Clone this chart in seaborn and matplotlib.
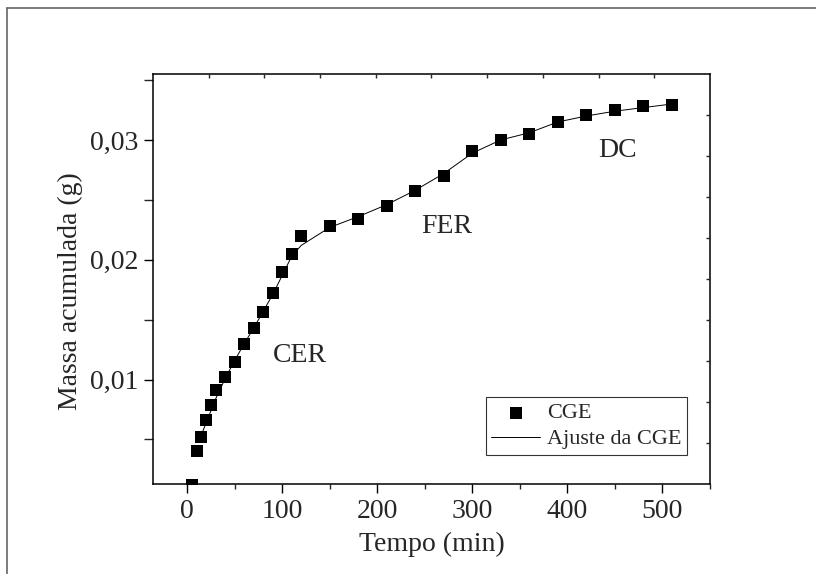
import matplotlib
matplotlib.use("Agg")
import matplotlib.pyplot as plt
from matplotlib.lines import Line2D
from matplotlib.ticker import FixedLocator, FixedFormatter, MultipleLocator
import seaborn as sns
import pandas as pd

# ---- data ----
tempo = [5, 10, 15, 20, 25, 30, 40, 50, 60, 70, 80, 90, 100, 110, 120,
         150, 180, 210, 240, 270, 300, 330, 360, 390, 420, 450, 480, 510]
massa = [0.0012, 0.0040, 0.0052, 0.0066, 0.0079, 0.0091, 0.0102, 0.0115,
         0.0130, 0.0143, 0.0156, 0.0172, 0.0190, 0.0205, 0.0220,
         0.0228, 0.0234, 0.0245, 0.0257, 0.0270, 0.0291, 0.0300,
         0.0305, 0.0315, 0.0321, 0.0325, 0.0328, 0.0329]

fit_tempo = [15, 20, 30, 40, 50, 60, 70, 80, 90, 100, 110, 120, 150, 180,
             210, 240, 270, 300, 330, 360, 390, 420, 450, 480, 510]
fit_massa = [0.0054, 0.0064, 0.0084, 0.0101, 0.0116, 0.0130, 0.0143, 0.0157,
             0.0171, 0.0187, 0.0203, 0.0212, 0.0227, 0.0236, 0.0246, 0.0258,
             0.0272, 0.0289, 0.0300, 0.0306, 0.0315, 0.0320, 0.0324, 0.0327,
             0.0330]

xticks = [0, 100, 200, 300, 400, 500]
xtick_labels = ["0", "100", "200", "300", "400", "500"]
yticks = [0.01, 0.02, 0.03]
ytick_labels = ["0,01", "0,02", "0,03"]

regions = ["CER", "FER", "DC"]
region_x = [119, 273, 453]
region_y = [0.0120, 0.0228, 0.0291]

x_label = "Tempo (min)"
y_label = "Massa acumulada (g)"
series_label = "CGE"
fit_label = "Ajuste da CGE"

df = pd.DataFrame({"t": tempo, "m": massa})
df_fit = pd.DataFrame({"t": fit_tempo, "m": fit_massa})

# ---- style ----
sns.set_style("ticks")
plt.rcParams["font.family"] = ["Liberation Serif", "DejaVu Serif"]

fig = plt.figure(figsize=(8.16, 5.74), dpi=100)
fig.patch.set_facecolor("white")
ax = fig.add_axes([0.1875, 0.1568, 0.6825, 0.7142])

sns.scatterplot(data=df, x="t", y="m", ax=ax, marker="s", s=64,
                color="black", edgecolor="black", linewidth=0,
                label=series_label, zorder=3)
sns.lineplot(data=df_fit, x="t", y="m", ax=ax, color="black", lw=0.7,
             errorbar=None, sort=True, label=fit_label, zorder=2)

ax.set_xlim(-36, 550)
ax.set_ylim(0.00128, 0.0355)

ax.xaxis.set_major_locator(FixedLocator(xticks))
ax.xaxis.set_major_formatter(FixedFormatter(xtick_labels))
ax.xaxis.set_minor_locator(MultipleLocator(50))
ax.yaxis.set_major_locator(FixedLocator(yticks))
ax.yaxis.set_major_formatter(FixedFormatter(ytick_labels))
ax.yaxis.set_minor_locator(MultipleLocator(0.005))

ax.tick_params(axis="both", which="major", direction="out", length=6.5,
               width=1.0, labelsize=20, pad=4, color="black")
ax.tick_params(axis="x", which="minor", direction="out", length=3.8, width=1.0)
ax.tick_params(axis="y", which="minor", direction="out", length=6.5, width=1.0)
ax.tick_params(top=False, right=False, which="both")

for sp in ax.spines.values():
    sp.set_visible(True)
    sp.set_linewidth(1.1)
    sp.set_color("black")

ax.set_xlabel(x_label, fontsize=20, labelpad=6)
ax.set_ylabel(y_label, fontsize=20, labelpad=6)
ax.yaxis.set_label_coords(-0.125, 0.47)

for name, rx, ry in zip(regions, region_x, region_y):
    ax.text(rx, ry, name, fontsize=20, ha="center", va="center")

# Origin-style inner ticks on top and right (10 equal divisions)
ov = fig.add_axes(ax.get_position(), facecolor="none", zorder=5)
ov.set_xlim(0, 10)
ov.set_ylim(0, 10)
ov.set_xticks(range(1, 10))
ov.set_yticks(range(1, 10))
ov.tick_params(axis="both", direction="in", length=3, width=1.0,
               bottom=False, left=False, top=True, right=True,
               labelbottom=False, labelleft=False)
for sp in ov.spines.values():
    sp.set_visible(False)

h, l = ax.get_legend_handles_labels()
order = [l.index(series_label), l.index(fit_label)]
leg = ax.legend([h[i] for i in order], [l[i] for i in order],
                loc="lower right", bbox_to_anchor=(0.9587, 0.0707),
                borderaxespad=0, frameon=True, fancybox=False,
                edgecolor="black", fontsize=16, handlelength=2.2,
                handletextpad=0.3, labelspacing=0.25, borderpad=0.25,
                markerscale=1.1)
leg.get_frame().set_linewidth(0.8)

# page frame (left and top border of the screenshot)
fig.add_artist(Line2D([7 / 816, 7 / 816], [0, 1 - 8 / 574],
                      transform=fig.transFigure, color="#666666", lw=1.2))
fig.add_artist(Line2D([7 / 816, 1], [1 - 8 / 574, 1 - 8 / 574],
                      transform=fig.transFigure, color="#666666", lw=1.2))

fig.savefig("out.png", dpi=100)
